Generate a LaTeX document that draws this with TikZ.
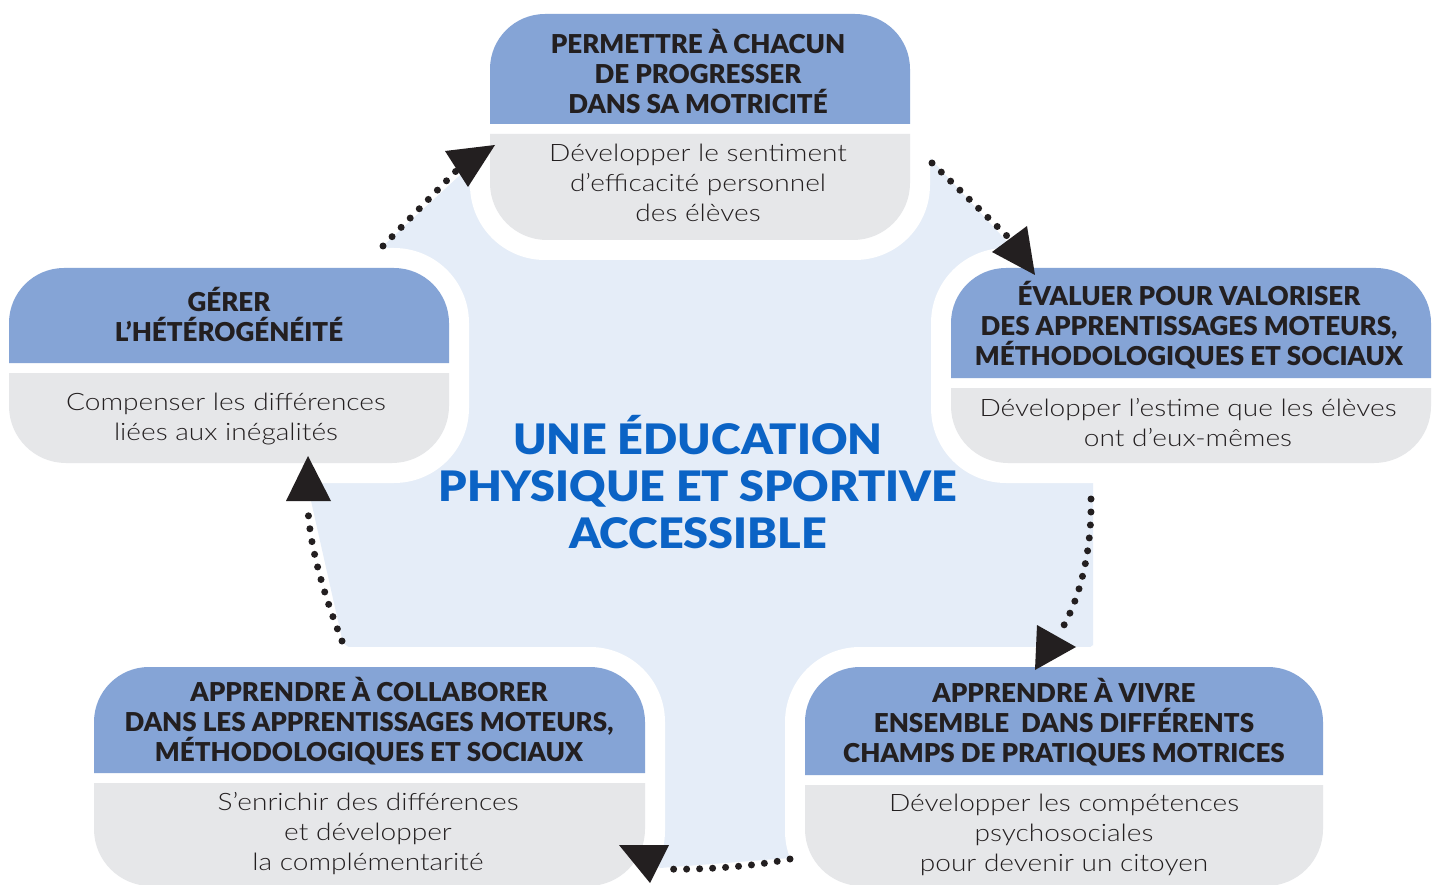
\documentclass[tikz,border=0pt]{standalone}
\usepackage{fontspec}
\setmainfont{Lato}
\newfontfamily\headfont{Lato Black}
\newfontfamily\titlefont{Lato Black}[FakeStretch=1.07]
\newfontfamily\bodyfont{Lato Light}[FakeStretch=1.17]
\definecolor{cardblue}{HTML}{85A4D6}
\definecolor{cardgray}{HTML}{E6E7E9}
\definecolor{bgblue}{HTML}{E5EDF8}
\definecolor{titleblue}{HTML}{0B63C5}
\definecolor{ink}{HTML}{231F20}
% card: x1, y1, x2, ysplit, y2
\newcommand{\mycard}[5]{%
  \fill[white, rounded corners=75] (#1-20,#2-20) rectangle (#3+20,#5+20);
  \fill[cardblue] (#1,#4) -- (#1,#2+55) arc[start angle=180, end angle=270, radius=55]
     -- (#3-55,#2) arc[start angle=270, end angle=360, radius=55] -- (#3,#4) -- cycle;
  \fill[cardgray] (#1,#4+10) -- (#1,#5-57) arc[start angle=180, end angle=90, radius=57]
     -- (#3-57,#5) arc[start angle=90, end angle=0, radius=57] -- (#3,#4+10) -- cycle;
}
\begin{document}
\begin{tikzpicture}[x=1pt,y=-1pt,
  head/.style={font=\headfont\fontsize{26}{30}\selectfont, text=ink, align=center, inner sep=0pt},
  body/.style={font=\bodyfont\fontsize{24}{30}\selectfont, text=ink, align=center, inner sep=0pt},
  title/.style={font=\titlefont\fontsize{42}{47}\selectfont, text=titleblue, align=center, inner sep=0pt},
  dots/.style={line width=7pt, dash pattern=on 0pt off 13pt, line cap=round, draw=ink},
  tip/.style={fill=ink}]
\useasboundingbox (0,0) rectangle (1438,885);
\clip (0,0) rectangle (1438,885);
\fill[white] (0,0) rectangle (1438,885);
% light blue background
\fill[bgblue] (383,246) -- (495,143) -- (930,158) -- (1035,272) -- (1093,483) -- (1093,645)
  -- (790,858) -- (660,868) -- (343,643) -- (307,483) -- cycle;
% cards
\mycard{490}{14}{910}{124}{240}
\mycard{9}{268}{449}{363}{463}
\mycard{951}{268}{1431}{378}{463}
\mycard{94}{667}{645}{773}{886}
\mycard{805}{667}{1323}{775}{886}
% texts
\node[head] (h1) at (698,71) {PERMETTRE À CHACUN\\DE PROGRESSER\\DANS SA MOTRICITÉ};
\node[body] (b1) at (698,183) {Développer le sentiment\\d’efficacité personnel\\des élèves};
\node[head] (h2) at (1189,325) {ÉVALUER POUR VALORISER\\DES APPRENTISSAGES MOTEURS,\\MÉTHODOLOGIQUES ET SOCIAUX};
\node[body] (b2) at (1188,423) {Développer l’estime que les élèves\\ont d’eux-mêmes};
\node[head] (h3) at (1064,722) {APPRENDRE À VIVRE\\ENSEMBLE\ \ DANS DIFFÉRENTS\\CHAMPS DE PRATIQUES MOTRICES};
\node[body] (b3) at (1064,835) {Développer les compétences\\psychosociales\\pour devenir un citoyen};
\node[head] (h4) at (369,721) {APPRENDRE À COLLABORER\\DANS LES APPRENTISSAGES MOTEURS,\\MÉTHODOLOGIQUES ET SOCIAUX};
\node[body] (b4) at (368,834) {S’enrichir des différences\\et développer\\la complémentarité};
\node[head] (h5) at (229,314) {GÉRER\\L’HÉTÉROGÉNÉITÉ};
\node[body] (b5) at (226,419) {Compenser les différences\\liées aux inégalités};
\node[title] (t) at (698,482) {UNE ÉDUCATION\\PHYSIQUE ET SPORTIVE\\ACCESSIBLE};
% arrows
\coordinate (a1s) at (383,246); \coordinate (a1e) at (458,169);
\coordinate (a2s) at (932,163); \coordinate (a2e) at (1008,237);
\coordinate (a3s) at (1091,499); \coordinate (a3e) at (1060,632);
\coordinate (a4s) at (790,859); \coordinate (a4e) at (664,869);
\coordinate (a5s) at (342,641); \coordinate (a5e) at (308,509);
\draw[dots] (a1s) -- (a1e);
\draw[dots] (a2s) -- (a2e);
\draw[dots] (a3s) .. controls (1092,550) and (1080,600) .. (a3e);
\draw[dots] (a4s) .. controls (750,867) and (700,870) .. (a4e);
\draw[dots] (a5s) .. controls (326,600) and (310,550) .. (a5e);
\fill[tip] (445,151) -- (495,145) -- (468,187) -- cycle;
\fill[tip] (992,252) -- (1027,226) -- (1035,275) -- cycle;
\fill[tip] (1037,625) -- (1076,647) -- (1035,670) -- cycle;
\fill[tip] (619,845) -- (669,845) -- (650,883) -- cycle;
\fill[tip] (286,501) -- (331,501) -- (308,456) -- cycle;
\end{tikzpicture}
\end{document}
